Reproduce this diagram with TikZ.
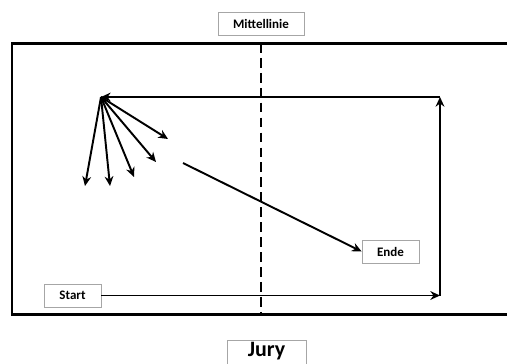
\documentclass[tikz,border=0pt]{standalone}
\usepackage{fontspec}
\setmainfont{Carlito}
\usetikzlibrary{arrows.meta, positioning}

\tikzset{
  box/.style={draw=gray!70, line width=0.4pt, fill=white, inner sep=0pt,
    minimum height=0.46cm, font=\bfseries\fontsize{7.4}{9}\selectfont},
  pfeil/.style={line width=1.1pt, -{Stealth[length=5.5pt,width=5pt]}},
}

\begin{document}
\begin{tikzpicture}[x=0.02cm, y=-0.02cm]
\clip (0,0) rectangle (507,363);
\draw[line width=1.7pt] (520,43) -- (12,43) -- (12,314) -- (520,314);
\draw[line width=1.7pt, dash pattern=on 5.5pt off 3pt] (261,43) -- (261,314);
\node[box, minimum width=1.72cm] (mitte) at (261,23.5) {Mittellinie};
\node[box, minimum width=1.14cm] (start) at (72.5,295.5) {Start};
\node[box, minimum width=1.14cm] (ende) at (390.5,251.5) {Ende};
\node[box, minimum width=1.58cm, minimum height=0.7cm,
  font=\bfseries\fontsize{12.5}{14}\selectfont] (jury) at (266.5,358) {};
\node[font=\bfseries\fontsize{12.5}{14}\selectfont, inner sep=0pt] (juryname) at (266.5,351.5) {Jury};
\coordinate (fan) at (101,97);
\coordinate (eck) at (440,97);
\coordinate (lauf) at (183,163);
\draw[pfeil] (start.east) -- (start.east -| eck) coordinate (unten);
\draw[pfeil] (unten) -- (eck);
\draw[pfeil] (eck) -- (fan);
\foreach \x/\y in {85/186, 110/186, 134/177, 156/162, 168/139}
  \draw[pfeil] (fan) -- (\x,\y);
\draw[pfeil] (lauf) -- (ende.west);
\end{tikzpicture}
\end{document}
